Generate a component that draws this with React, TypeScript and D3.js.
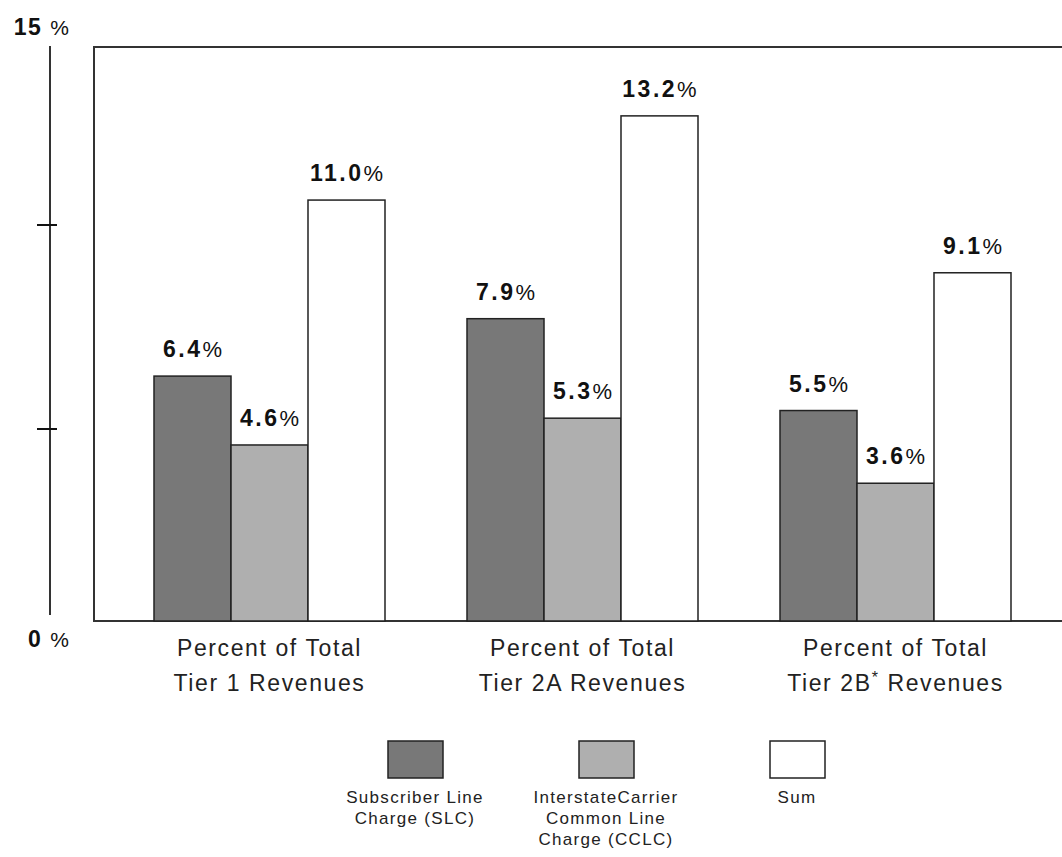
import React from "react";
import * as d3 from "d3";

// Groups along the x axis and the two-line caption under each group
const categories = ["Tier 1", "Tier 2A", "Tier 2B"];
const categoryCaptions = [
  ["Percent of Total", "Tier 1 Revenues"],
  ["Percent of Total", "Tier 2A Revenues"],
  ["Percent of Total", "Tier 2B* Revenues"],
];

// Series (percent of total revenues)
const seriesKeys = ["SLC", "CCLC", "Sum"];
const slcValues = [6.4, 7.9, 5.5];
const cclcValues = [4.6, 5.3, 3.6];
const sumValues = [11.0, 13.2, 9.1];

const legendLabels = [
  ["Subscriber Line", "Charge (SLC)"],
  ["InterstateCarrier", "Common Line", "Charge (CCLC)"],
  ["Sum"],
];

// Side scale: ticks and end labels
const sideTicks = [5, 10];
const sideLabels = [0, 15];

const W = 1062;
const H = 857;
const FONT = "'Liberation Sans', Arial, sans-serif";

const fills: Record<string, string> = {
  SLC: "#787878",
  CCLC: "#afafaf",
  Sum: "#ffffff",
};

export default function App() {
  const valuesByKey: Record<string, number[]> = {
    SLC: slcValues,
    CCLC: cclcValues,
    Sum: sumValues,
  };

  const frameLeft = 94;
  const frameTop = 47;
  const frameBottom = 621;

  const y = d3.scaleLinear().domain([0, 15]).range([frameBottom, frameTop]);

  const x0 = d3
    .scaleBand<string>()
    .domain(categories)
    .range([113, 1052])
    .paddingInner(0.262)
    .paddingOuter(0.131);

  const x1 = d3
    .scaleBand<string>()
    .domain(seriesKeys)
    .range([0, x0.bandwidth()])
    .padding(0);

  const side = d3.scaleLinear().domain([0, 15]).range([633, 21]);
  const sideX = 50;

  const legendX = d3.scalePoint<string>().domain(seriesKeys).range([415, 797]);

  const fmt = d3.format(".1f");

  const renderCaption = (line: string) => {
    const parts = line.split("*");
    if (parts.length === 1) return line;
    return (
      <>
        {parts[0]}
        <tspan fontSize={16} dy={-8}>*</tspan>
        <tspan dy={8}>{parts[1]}</tspan>
      </>
    );
  };

  return (
    <svg
      width={W}
      height={H}
      style={{ position: "absolute", left: 0, top: 0, background: "#fff" }}
      fontFamily={FONT}
    >
      <rect width={W} height={H} fill="#fff" />

      {/* side scale */}
      <line
        x1={sideX}
        x2={sideX}
        y1={side(15) + 25}
        y2={side(0) - 18}
        stroke="#333"
        strokeWidth={2}
      />
      {sideTicks.map((t) => (
        <line
          key={t}
          x1={sideX - 13}
          x2={sideX + 7}
          y1={side(t)}
          y2={side(t)}
          stroke="#111"
          strokeWidth={2}
        />
      ))}
      {sideLabels.map((t) => (
        <text key={t} x={69} y={side(t) + 14} textAnchor="end" fill="#111">
          <tspan fontWeight="bold" fontSize={23} letterSpacing={1.5}>
            {t}
          </tspan>
          <tspan fontSize={21} dx={8}>%</tspan>
        </text>
      ))}

      {/* frame */}
      <path
        d={`M${W + 10},${frameTop}H${frameLeft}V${frameBottom}H${W + 10}`}
        fill="none"
        stroke="#333"
        strokeWidth={2}
      />

      {/* bars */}
      {categories.map((c, i) => (
        <g key={c} transform={`translate(${x0(c)},0)`}>
          {seriesKeys.map((k) => {
            const v = valuesByKey[k][i];
            const bx = x1(k)!;
            return (
              <g key={k}>
                <rect
                  x={bx}
                  y={y(v)}
                  width={x1.bandwidth()}
                  height={y(0) - y(v)}
                  fill={fills[k]}
                  stroke="#222"
                  strokeWidth={1.5}
                />
                <text
                  x={bx + x1.bandwidth() / 2}
                  y={y(v) - 19}
                  textAnchor="middle"
                  fill="#111"
                >
                  <tspan fontWeight="bold" fontSize={23} letterSpacing={2.5}>
                    {fmt(v)}
                  </tspan>
                  <tspan fontSize={22}>%</tspan>
                </text>
              </g>
            );
          })}
          {categoryCaptions[i].map((line, j) => (
            <text
              key={j}
              x={x0.bandwidth() / 2}
              y={656 + j * 35}
              textAnchor="middle"
              fontSize={23}
              letterSpacing={1.6}
              fill="#222"
            >
              {renderCaption(line)}
            </text>
          ))}
        </g>
      ))}

      {/* legend */}
      {seriesKeys.map((k, i) => {
        const cx = legendX(k)!;
        return (
          <g key={k}>
            <rect
              x={cx - 27}
              y={741}
              width={55}
              height={37}
              fill={fills[k]}
              stroke="#222"
              strokeWidth={1.5}
            />
            {legendLabels[i].map((line, j) => (
              <text
                key={j}
                x={cx}
                y={803 + j * 21}
                textAnchor="middle"
                fontSize={17}
                letterSpacing={1.3}
                fill="#222"
              >
                {line}
              </text>
            ))}
          </g>
        );
      })}
    </svg>
  );
}
